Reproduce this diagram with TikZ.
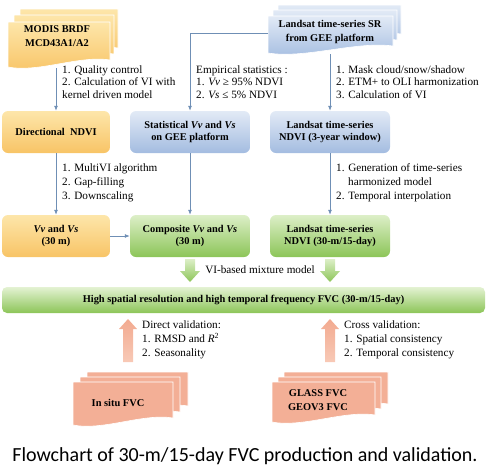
\documentclass[tikz,border=0pt]{standalone}
\usepackage{fontspec}
\setmainfont{Liberation Serif}
\newfontfamily\serfont{Liberation Serif}
\newfontfamily\capfont{Carlito}
\usetikzlibrary{calc,arrows.meta}
\definecolor{orT}{HTML}{FDE6AA}
\definecolor{orB}{HTML}{F8C466}
\definecolor{blT}{HTML}{E2EAF6}
\definecolor{blB}{HTML}{A3BCE0}
\definecolor{grT}{HTML}{DDEFC8}
\definecolor{grB}{HTML}{8CC558}
\definecolor{saT}{HTML}{F2AA90}
\definecolor{saB}{HTML}{F8C9B6}
\definecolor{lineC}{HTML}{6F8FB5}
\newcommand{\sheetshape}[5]{%
 \pgfmathsetmacro{\sdw}{#3-#1}%
 \path[#5] (#1,#2) -- (#3,#2) -- (#3,#4-7) .. controls (#1+0.7*\sdw,#4-12) and (#1+0.3*\sdw,#4+6) .. (#1,#4) -- cycle;}
\tikzset{
 box/.style={rounded corners=6pt, minimum height=#1, inner sep=2pt, align=center, font=\serfont\fontsize{10.4}{12.5}\selectfont\bfseries},
 box/.default=42pt,
 orbox/.style={box, top color=orT, bottom color=orB},
 blbox/.style={box, top color=blT, bottom color=blB},
 grbox/.style={box, top color=grT, bottom color=grB},
 conn/.style={draw=lineC, line width=0.8pt, -{Latex[length=5pt,width=4pt]}},
 lbl/.style={anchor=north west, align=left, inner sep=0pt, font=\serfont\fontsize{11.2}{12.5}\selectfont},
 lblb/.style={anchor=north west, align=left, inner sep=0pt, font=\serfont\fontsize{11.2}{14}\selectfont},
 doctext/.style={align=center, inner sep=1pt, font=\serfont\fontsize{10.4}{14}\selectfont\bfseries},
 orsheet/.style={top color=orT, bottom color=orB, draw=white, line width=0.6pt},
 blsheet/.style={top color=blT, bottom color=blB, draw=white, line width=0.6pt},
 sasheet/.style={fill=saT!85!saB, draw=white, line width=0.6pt},
}
\begin{document}
\begin{tikzpicture}[x=1pt,y=-1pt]
\useasboundingbox (0,0) rectangle (488,472);
% MODIS multi-document
\sheetshape{20}{9}{118}{55}{orsheet}
\sheetshape{14}{15}{114}{61}{orsheet}
\sheetshape{8}{22}{110}{67}{orsheet}
\node[doctext] (modis) at (57,36) {MODIS BRDF\\MCD43A1/A2};
% Landsat SR multi-document
\sheetshape{278}{5}{401}{41}{blsheet}
\sheetshape{273}{10}{397}{47}{blsheet}
\sheetshape{268}{16}{393}{53}{blsheet}
\node[doctext] (sr) at (330,32) {Landsat time-series SR\\from GEE platform};
\coordinate (modisb) at (56,68);
\coordinate (srl) at (268,33);
\coordinate (srb) at (330,54);
% row 2
\node[orbox, minimum width=108pt] (dir) at (56,132) {Directional\ \ NDVI};
\node[blbox, minimum width=120pt] (stat) at (190,132) {Statistical \textit{Vv} and \textit{Vs}\\on GEE platform};
\node[blbox, minimum width=120pt] (lnd) at (330,132) {Landsat time-series\\NDVI (3-year window)};
% row 3
\node[orbox=36pt, minimum width=108pt] (vv) at (56,236) {\textit{Vv} and \textit{Vs}\\(30 m)};
\node[grbox=36pt, minimum width=120pt] (comp) at (190,236) {Composite \textit{Vv} and \textit{Vs}\\(30 m)};
\node[grbox=36pt, minimum width=120pt] (lts) at (330,236) {Landsat time-series\\NDVI (30-m/15-day)};
% FVC
\node[box=26pt, minimum width=483pt, top color=grT!80!white, bottom color=grB, rounded corners=5pt] (fvc) at (243.5,300) {High spatial resolution and high temporal frequency FVC (30-m/15-day)};
% connectors
\draw[conn] (modisb) -- (dir.north);
\draw[conn] (srl) -| (stat.north);
\draw[conn] (srb) -- (lnd.north);
\draw[conn] (dir) -- (vv);
\draw[conn] (stat) -- (comp);
\draw[conn] (lnd) -- (lts);
\draw[conn] (vv.east) -- (comp.west);
% labels
\node[lbl] (l1) at (62,65.5) {1. Quality control\\2. Calculation of VI with\\kernel driven model};
\node[lbl] (l2) at (196,65.5) {Empirical statistics :\\1. \textit{Vv} ≥ 95\% NDVI\\2. \textit{Vs} ≤ 5\% NDVI};
\node[lbl] (l3) at (336,65.5) {1. Mask cloud/snow/shadow\\2. ETM+ to OLI harmonization\\3. Calculation of VI};
\node[lblb] (l4) at (62,163.5) {1. MultiVI algorithm\\2. Gap-filling\\3. Downscaling};
\node[lblb] (l5) at (336,163.5) {1. Generation of time-series\\\hspace*{12pt}harmonized model\\2. Temporal interpolation};
% green block arrows
\foreach \xx in {190,330}{
 \path[top color=grT, bottom color=grB] (\xx-5,259) -- (\xx+5,259) -- (\xx+5,271) -- (\xx+10,271) -- (\xx,282) -- (\xx-10,271) -- (\xx-5,271) -- cycle;
}
\node[font=\serfont\fontsize{11.2}{12}\selectfont, inner sep=1pt] (mix) at (260,270) {VI-based mixture model};
% salmon block arrows
\foreach \xx in {128,330}{
 \path[top color=saT, bottom color=saB] (\xx,319) -- (\xx+9,329) -- (\xx+5,329) -- (\xx+5,362) -- (\xx-5,362) -- (\xx-5,329) -- (\xx-9,329) -- cycle;
}
\node[lblb] (l6) at (142,320.5) {Direct validation:\\1. RMSD and \textit{R}\textsuperscript{2}\\2. Seasonality};
\node[lblb] (l7) at (344,320.5) {Cross validation:\\1. Spatial consistency\\2. Temporal consistency};
% In situ multi-document
\sheetshape{87}{372}{188}{413}{sasheet}
\sheetshape{80}{377}{180}{419}{sasheet}
\sheetshape{73}{382}{173}{425}{sasheet}
\node[doctext] (insitu) at (118,403) {In situ FVC};
% GLASS multi-document
\sheetshape{284}{372}{388}{411}{sasheet}
\sheetshape{278}{377}{381}{416}{sasheet}
\sheetshape{272}{382}{375}{422}{sasheet}
\node[doctext] (glass) at (318,400.5) {GLASS FVC\\GEOV3 FVC};
% caption
\node[font=\capfont\fontsize{20}{24}\selectfont, inner sep=0pt] (cap) at (245,456) {Flowchart of 30-m/15-day FVC production and validation.};
\end{tikzpicture}
\end{document}
